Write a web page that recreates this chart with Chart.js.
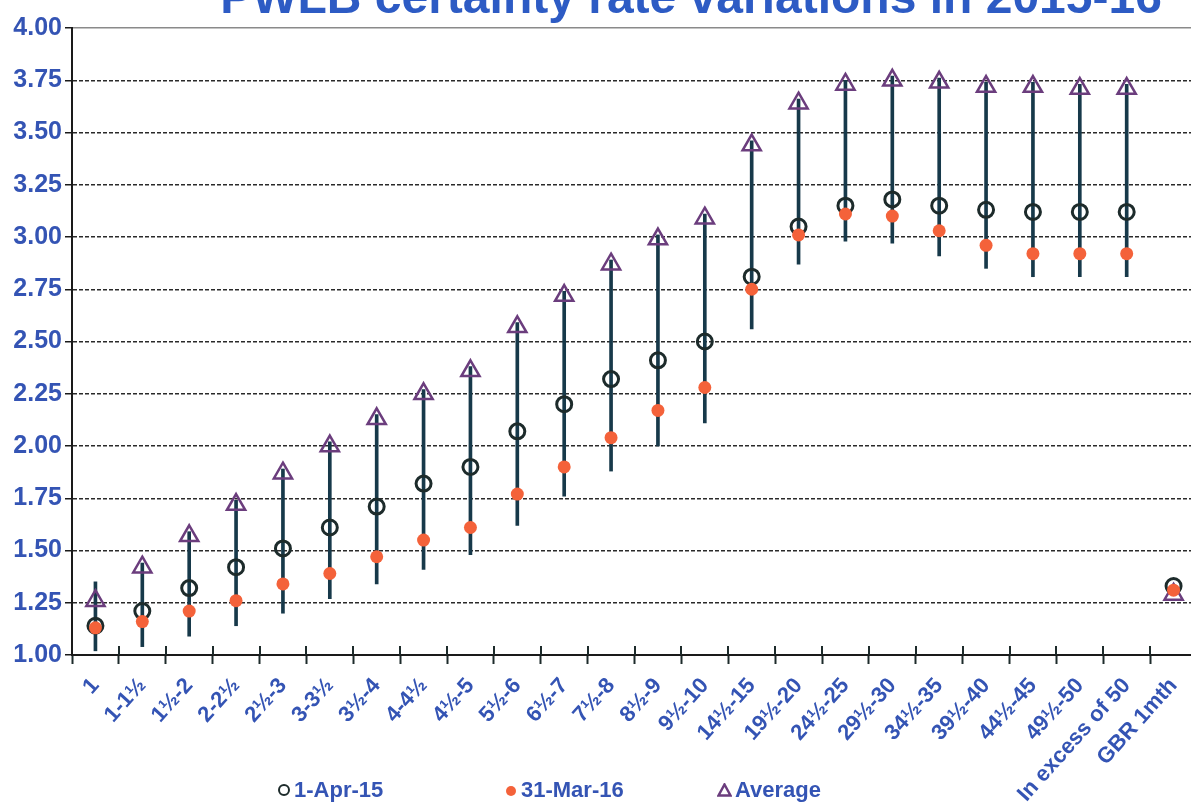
<!DOCTYPE html>
<html>
<head>
<meta charset="utf-8">
<script src="https://cdn.jsdelivr.net/npm/chart.js@4.4.1/dist/chart.umd.min.js"></script>
<style>
html,body{margin:0;padding:0;background:#fff;overflow:hidden}
#wrap{position:relative;width:1191px;height:805px;background:#fff;overflow:hidden}
canvas{display:block}
.lg{position:absolute;top:779px;font:bold 22px "Liberation Sans",Arial,sans-serif;color:#3454b4;line-height:22px;white-space:nowrap}
.m1{display:inline-block;width:8px;height:8px;border:2.5px solid #1d2b2b;border-radius:50%;margin-right:4px;vertical-align:1px}
.m2{display:inline-block;width:10px;height:10px;background:#f4623a;border-radius:50%;margin-right:5px;vertical-align:1px}
.m3{display:inline-block;margin-right:3px;vertical-align:0px}
</style>
</head>
<body>
<div id="wrap">
<canvas id="c" width="1197" height="805"></canvas>
<div class="lg" style="left:278px"><span class="m1"></span>1-Apr-15</div>
<div class="lg" style="left:506px"><span class="m2"></span>31-Mar-16</div>
<div class="lg" style="left:717px"><svg class="m3" width="15" height="14" viewBox="0 0 15 14"><polygon points="7.5,1.5 13.5,12.5 1.5,12.5" fill="none" stroke="#6b3d7d" stroke-width="2.5"/></svg>Average</div>
</div>
<script>
const TITLE = 'PWLB certainty rate variations in 2015-16';
const categories = ['1','1-1½','1½-2','2-2½','2½-3','3-3½','3½-4','4-4½','4½-5','5½-6','6½-7','7½-8','8½-9','9½-10','14½-15','19½-20','24½-25','29½-30','34½-35','39½-40','44½-45','49½-50','In excess of 50','GBR 1mth'];
const apr15 =   [1.14,1.21,1.32,1.42,1.51,1.61,1.71,1.82,1.90,2.07,2.20,2.32,2.41,2.50,2.81,3.05,3.15,3.18,3.15,3.13,3.12,3.12,3.12,1.33];
const mar16 =   [1.13,1.16,1.21,1.26,1.34,1.39,1.47,1.55,1.61,1.77,1.90,2.04,2.17,2.28,2.75,3.01,3.11,3.10,3.03,2.96,2.92,2.92,2.92,1.31];
const average = [1.26,1.42,1.57,1.72,1.87,2.00,2.13,2.25,2.36,2.57,2.72,2.87,2.99,3.09,3.44,3.64,3.73,3.75,3.74,3.72,3.72,3.71,3.71,1.29];
const rangeHigh = [1.35,1.44,1.59,1.74,1.89,2.02,2.15,2.27,2.38,2.59,2.74,2.89,3.01,3.11,3.46,3.66,3.75,3.77,3.76,3.74,3.74,3.73,3.73,1.33];
const rangeLow  = [1.02,1.04,1.09,1.14,1.20,1.27,1.34,1.41,1.48,1.62,1.76,1.88,2.00,2.11,2.56,2.87,2.98,2.97,2.91,2.85,2.81,2.81,2.81,1.29];
const yTicks = [1.00,1.25,1.50,1.75,2.00,2.25,2.50,2.75,3.00,3.25,3.50,3.75,4.00];

const FONT = '"Liberation Sans", Arial, sans-serif';
const BLUE = '#3454b4';

const titlePlugin = {
  id: 'cutTitle',
  afterDraw(chart) {
    const ctx = chart.ctx;
    ctx.save();
    ctx.font = 'bold 48px ' + FONT;
    ctx.fillStyle = '#2d5bc4';
    ctx.textAlign = 'center';
    ctx.textBaseline = 'alphabetic';
    ctx.fillText(TITLE, 691, 13);
    ctx.restore();
  }
};

// short tick stubs above the category axis (they cross the axis line in the reference)
const tickCross = {
  id: 'tickCross',
  afterDraw(chart) {
    const xs = chart.scales.x, ctx = chart.ctx, y0 = chart.chartArea.bottom;
    const step = xs.getPixelForTick(1) - xs.getPixelForTick(0);
    ctx.save();
    ctx.strokeStyle = '#1d2b2b';
    ctx.lineWidth = 2;
    for (let i = 1; i < xs.ticks.length; i++) {
      const px = Math.round(xs.getPixelForTick(i) - step / 2);
      ctx.beginPath(); ctx.moveTo(px, y0 - 9); ctx.lineTo(px, y0); ctx.stroke();
    }
    ctx.restore();
  }
};

new Chart(document.getElementById('c'), {
  type: 'bar',
  data: {
    labels: categories,
    datasets: [
      {
        type: 'bar', label: 'range',
        data: rangeLow.map((lo, i) => [lo, rangeHigh[i]]),
        backgroundColor: '#17394a', borderWidth: 0, barThickness: 3, order: 10
      },
      {
        type: 'line', label: '1-Apr-15', data: apr15, showLine: false,
        pointStyle: 'circle', pointRadius: 7.5, pointBorderWidth: 3,
        pointBorderColor: '#1d2b2b', pointBackgroundColor: 'rgba(0,0,0,0)', order: 3
      },
      {
        type: 'line', label: 'Average', data: average, showLine: false,
        pointStyle: 'triangle', pointRadius: 10.5, pointBorderWidth: 2.5,
        pointBorderColor: '#6b3d7d', pointBackgroundColor: 'rgba(0,0,0,0)', order: 2
      },
      {
        type: 'line', label: '31-Mar-16', data: mar16, showLine: false,
        pointStyle: 'circle', pointRadius: 6.5, pointBorderWidth: 0,
        pointBackgroundColor: '#f4623a', pointBorderColor: '#f4623a', order: 1
      }
    ]
  },
  options: {
    responsive: false,
    devicePixelRatio: 1,
    animation: false,
    layout: { autoPadding: false, padding: { top: 28, left: 0, right: 0, bottom: 0 } },
    plugins: { legend: { display: false }, title: { display: false }, tooltip: { enabled: false } },
    scales: {
      x: {
        grid: { display: true, drawOnChartArea: false, drawTicks: true, tickLength: 9, tickWidth: 2, tickColor: '#1d2b2b', offset: true },
        border: { display: true, color: '#1a1a1a', width: 2 },
        ticks: { autoSkip: false, maxRotation: 48, minRotation: 48, padding: 9, color: BLUE, font: { family: FONT, size: 22, weight: 'bold' } },
        afterFit(s) { s.height = 150; s.paddingLeft = 0; s.paddingRight = 0; }
      },
      y: {
        min: 1, max: 4,
        afterBuildTicks(s) { s.ticks = yTicks.map(v => ({ value: v })); },
        ticks: { callback: v => Number(v).toFixed(2), color: BLUE, padding: 3, font: { family: FONT, size: 25, weight: 'bold' } },
        grid: {
          color: c => (c.tick && c.tick.value === 4) ? '#8a8a8a' : '#2a2a2a',
          lineWidth: 1.5, tickLength: 7, tickColor: '#1a1a1a', tickWidth: 1.5, tickBorderDash: []
        },
        border: { display: true, color: '#1a1a1a', width: 2, dash: c => (c.tick && c.tick.value === 4) ? [] : [4, 2] },
        afterFit(s) { s.width = 72; }
      }
    }
  },
  plugins: [titlePlugin, tickCross]
});
</script>
</body>
</html>
